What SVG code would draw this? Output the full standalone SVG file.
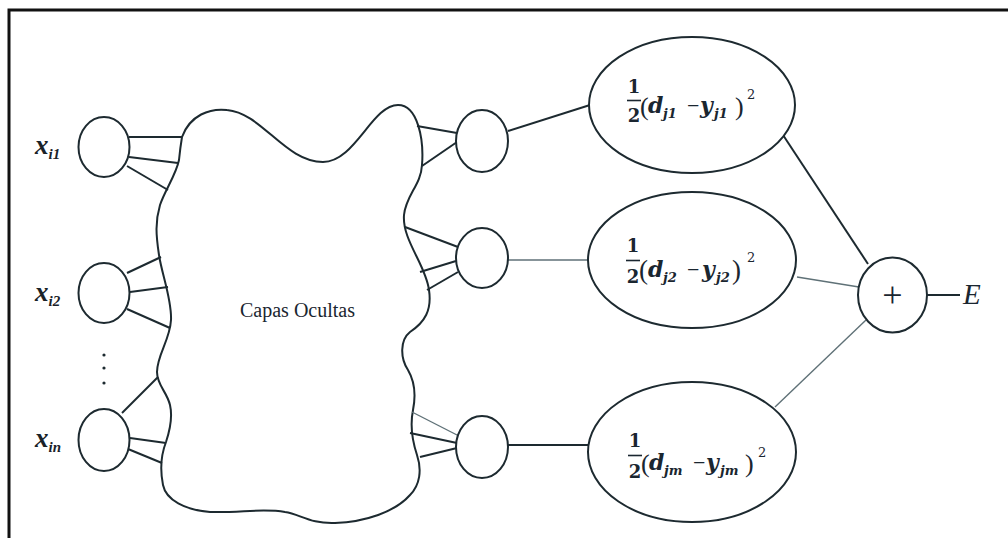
<svg xmlns="http://www.w3.org/2000/svg" width="1008" height="538" viewBox="0 0 1008 538">
<defs>
<style>
.ln{stroke:#1d2a30;stroke-width:2;fill:none}
.lt{stroke:#5f7177;stroke-width:1.4;fill:none}
.nd{stroke:#1d2a30;stroke-width:2;fill:#fff}
.lab{font-family:"Liberation Serif",serif;font-style:italic;font-weight:bold;fill:#1a2228}
.f{font-family:"Liberation Serif",serif;fill:#1a2630}
.m{font-family:"DejaVu Serif","Liberation Serif",serif;fill:#1a2630}
.fb{font-weight:bold}
.fi{font-style:italic;font-weight:bold}
</style>
</defs>
<rect x="0" y="0" width="1008" height="538" fill="#fff"/>
<rect x="9" y="10" width="1010" height="540" fill="none" stroke="#111" stroke-width="3"/>

<g id="cloud">
<path class="ln" d="M182,137 C190,115 210,108 227,110 C262,113 285,162 323,162 C355,162 372,105 398,105 C418,105 424,140 422,165 C421,185 406,195 404,215 C402,240 426,265 429,290 C432,310 425,322 410,332 C400,340 400,358 408,370 C415,382 416,395 413,410 C410,425 412,440 417,455 C422,470 420,485 410,495 C395,512 365,522 335,523 C310,524 300,514 285,512 C262,508 240,513 210,512 C185,510 166,500 163,485 C160,470 161,455 166,442 C170,430 173,418 170,405 C167,392 157,385 157,372 C157,355 170,340 171,320 C172,300 162,275 159,255 C156,235 155,222 160,205 C165,190 176,175 179,160 C180,150 181,143 182,137 Z"/>
<text x="240" y="317" class="f" font-size="20">Capas Ocultas</text>
</g>

<g id="connectors">
<line class="ln" x1="129" y1="137" x2="182" y2="137"/>
<line class="ln" x1="129" y1="157" x2="178" y2="163"/>
<line class="ln" x1="127" y1="166" x2="168" y2="190"/>
<line class="ln" x1="127" y1="273" x2="161" y2="257"/>
<line class="ln" x1="130" y1="292" x2="168" y2="287"/>
<line class="ln" x1="127" y1="309" x2="170" y2="328"/>
<line class="ln" x1="122" y1="413" x2="158" y2="377"/>
<line class="ln" x1="130" y1="438" x2="166" y2="443"/>
<line class="ln" x1="128" y1="449" x2="162" y2="463"/>

<line class="ln" x1="417" y1="126" x2="457" y2="133"/>
<line class="ln" x1="422" y1="166" x2="457" y2="142"/>
<line class="ln" x1="405" y1="227" x2="458" y2="247"/>
<line class="ln" x1="420" y1="272" x2="456" y2="261"/>
<line class="ln" x1="427" y1="290" x2="458" y2="272"/>
<line class="lt" x1="412" y1="412" x2="457" y2="435"/>
<line class="ln" x1="410" y1="433" x2="457" y2="443"/>
<line class="ln" x1="420" y1="457" x2="457" y2="448"/>

<line class="ln" x1="508" y1="131" x2="590" y2="105"/>
<line class="lt" x1="508" y1="260" x2="588" y2="260"/>
<line class="ln" x1="508" y1="445" x2="588" y2="445"/>

<line class="ln" x1="783" y1="135" x2="868" y2="264"/>
<line class="lt" x1="797" y1="277" x2="859" y2="287"/>
<line class="lt" x1="775" y1="407" x2="866" y2="320"/>
<line class="ln" x1="927" y1="295" x2="960" y2="295"/>
</g>

<g id="x1">
<ellipse class="nd" cx="104" cy="147" rx="25.5" ry="30"/>
<text class="lab" x="35" y="154" font-size="27">x<tspan font-size="15" dy="5">i1</tspan></text>
</g>
<g id="x2">
<ellipse class="nd" cx="104" cy="293" rx="25.5" ry="30"/>
<text class="lab" x="35" y="301" font-size="27">x<tspan font-size="15" dy="5">i2</tspan></text>
</g>
<g id="dots">
<circle cx="104" cy="355" r="1.6" fill="#1d2a30"/>
<circle cx="104" cy="368" r="1.6" fill="#1d2a30"/>
<circle cx="104" cy="383" r="1.6" fill="#1d2a30"/>
</g>
<g id="xn">
<ellipse class="nd" cx="104" cy="440" rx="25.5" ry="31"/>
<text class="lab" x="35" y="447" font-size="27">x<tspan font-size="15" dy="5">in</tspan></text>
</g>

<g id="h1"><ellipse class="nd" cx="482" cy="141" rx="26" ry="31"/></g>
<g id="h2"><ellipse class="nd" cx="482" cy="258" rx="26" ry="30"/></g>
<g id="h3"><ellipse class="nd" cx="482" cy="447" rx="26" ry="31"/></g>

<g id="e1">
<ellipse class="nd" cx="692" cy="105" rx="103" ry="68"/>
<text class="m fb" x="634" y="93" font-size="18" text-anchor="middle">1</text>
<line x1="627" y1="100.5" x2="641" y2="100.5" stroke="#1a2630" stroke-width="1.6"/>
<text class="m fb" x="634" y="122" font-size="18" text-anchor="middle">2</text>
<text class="f" x="640" y="115" font-size="26">(</text>
<text class="m fi" x="648" y="113" font-size="22">d</text>
<text class="m fi" x="663" y="118" font-size="13">j1</text>
<text class="f" x="687" y="113" font-size="22">−</text>
<text class="m fi" x="700" y="113" font-size="22">y</text>
<text class="m fi" x="714" y="118" font-size="13">j1</text>
<text class="f" x="735" y="115" font-size="26">)</text>
<text class="m" x="747" y="99" font-size="13">2</text>
</g>

<g id="e2">
<ellipse class="nd" cx="692" cy="260" rx="104" ry="68"/>
<text class="m fb" x="633" y="252" font-size="18" text-anchor="middle">1</text>
<line x1="626" y1="260.5" x2="640" y2="260.5" stroke="#1a2630" stroke-width="1.6"/>
<text class="m fb" x="633" y="283" font-size="18" text-anchor="middle">2</text>
<text class="f" x="639" y="279" font-size="27">(</text>
<text class="m fi" x="648" y="277" font-size="22">d</text>
<text class="m fi" x="663" y="282" font-size="13">j2</text>
<text class="f" x="687" y="277" font-size="22">−</text>
<text class="m fi" x="702" y="277" font-size="22">y</text>
<text class="m fi" x="716" y="282" font-size="13">j2</text>
<text class="f" x="732" y="279" font-size="27">)</text>
<text class="m" x="747" y="262" font-size="13">2</text>
</g>

<g id="e3">
<ellipse class="nd" cx="692" cy="452" rx="104" ry="70"/>
<text class="m fb" x="635" y="447" font-size="18" text-anchor="middle">1</text>
<line x1="628" y1="455.5" x2="642" y2="455.5" stroke="#1a2630" stroke-width="1.6"/>
<text class="m fb" x="635" y="478" font-size="18" text-anchor="middle">2</text>
<text class="f" x="641" y="472" font-size="26">(</text>
<text class="m fi" x="649" y="470" font-size="22">d</text>
<text class="m fi" x="664" y="475" font-size="13">jm</text>
<text class="f" x="693" y="470" font-size="22">−</text>
<text class="m fi" x="706" y="470" font-size="22">y</text>
<text class="m fi" x="720" y="475" font-size="13">jm</text>
<text class="f" x="745" y="472" font-size="26">)</text>
<text class="m" x="758" y="457" font-size="13">2</text>
</g>

<g id="sum">
<ellipse class="nd" cx="892.5" cy="295" rx="34.5" ry="37.5"/>
<text class="f" x="892.5" y="307" font-size="36" text-anchor="middle">+</text>
</g>
<g id="E">
<text class="f" x="963" y="304" font-size="29" font-style="italic">E</text>
</g>
</svg>
